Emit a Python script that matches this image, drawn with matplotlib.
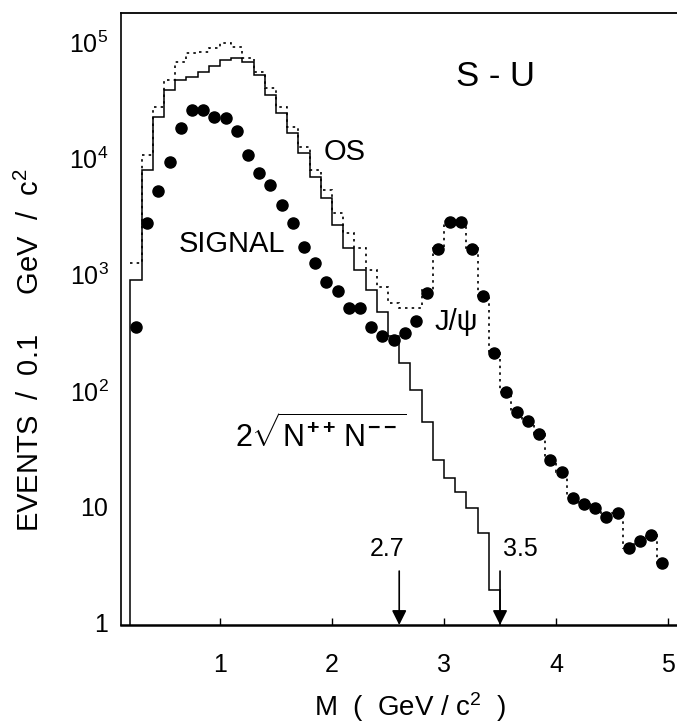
import matplotlib.pyplot as plt
import numpy as np
from matplotlib.ticker import NullLocator

plt.rcParams['font.family'] = ['Liberation Sans', 'DejaVu Sans']
plt.rcParams['mathtext.fontset'] = 'custom'
plt.rcParams['mathtext.rm'] = 'Liberation Sans'
plt.rcParams['mathtext.it'] = 'Liberation Sans'
plt.rcParams['mathtext.bf'] = 'Liberation Sans:bold'

# 0.1 GeV bins from 0.2 to 5.0 GeV/c^2
edges = np.round(np.arange(0.2, 5.05, 0.1), 2)
centers = (edges[:-1] + edges[1:]) / 2

# signal points (OS - like sign background)
signal = [352, 2790, 5220, 9290, 18400, 26100, 26100, 22900, 22400, 17400,
          10800, 7530, 5890, 3990, 2810, 1730, 1260, 859, 718, 516,
          516, 352, 298, 275, 318, 396, 695, 1670, 2830, 2830,
          1670, 650, 211, 98.6, 66.3, 55.5, 42.4, 25.4, 19.8, 11.9,
          10.6, 9.75, 8.25, 8.93, 4.40, 5.12, 5.74, 3.27]

# opposite sign pairs (dotted histogram)
os_counts = [1260, 10800, 28100, 48000, 68500, 82000, 83500, 90500, 100000, 92400,
             74300, 56200, 40900, 28100, 18900, 12700, 8040, 5410, 3420, 2300,
             1710, 1100, 788, 574, 520, 520, 740, 1700, 2920, 2920,
             1700, 650, 211, 98.6, 66.3, 55.5, 42.4, 25.4, 19.8, 11.9,
             10.6, 9.75, 8.25, 8.93, 4.40, 5.12, 5.74, 3.27]

# 2 sqrt(N++ N--) background, 0.2 - 3.5 GeV
bkg_edges = edges[:34]
bkg = [906, 8040, 23000, 39400, 48000, 50900, 56200, 63400, 71300, 74300,
       68500, 53000, 35600, 24900, 16700, 11300, 7000, 4610, 2700, 1710,
       1100, 743, 480, 294, 173, 102, 54.4, 25.4, 17.8, 13.5,
       9.8, 5.97, 1.93]

cut_pos = [2.6, 3.5]
cut_labels = ['2.7', '3.5']

fig = plt.figure(figsize=(6.77, 7.28), dpi=100)
ax = fig.add_axes([0.1787, 0.1415, 0.8213, 0.8407])
ax.set_yscale('log')

ax.stairs(bkg, bkg_edges, baseline=0.5, color='black', lw=1.1)
ax.stairs(os_counts, edges, baseline=None, color='black', lw=1.2,
          linestyle=(0, (1.5, 2.5)))
ax.plot(centers, signal, 'o', color='black', ms=8)

ax.set_xlim(0.116, 5.08)
ax.set_ylim(0.961, 1.8e5)

ax.set_xticks([1, 2, 3, 4, 5])
ax.set_yticks([1, 10, 100, 1e3, 1e4, 1e5])
ax.set_yticklabels(['1', '10', r'$\mathregular{10^2}$', r'$\mathregular{10^3}$',
                    r'$\mathregular{10^4}$', r'$\mathregular{10^5}$'])
ax.yaxis.set_minor_locator(NullLocator())
ax.tick_params(axis='x', direction='in', length=5, width=1, pad=20, labelsize=18)
ax.tick_params(axis='y', length=0, pad=9, labelsize=18)

ax.spines['right'].set_visible(False)
ax.spines['top'].set_linewidth(1.3)
ax.spines['bottom'].set_linewidth(1.8)
ax.spines['left'].set_linewidth(1.2)

for x in cut_pos:
    ax.annotate('', xy=(x, 0), xycoords=('data', 'axes fraction'),
                xytext=(x, 2.8), textcoords='data',
                arrowprops=dict(arrowstyle='-|>', color='black', lw=1.2,
                                mutation_scale=22, shrinkA=0, shrinkB=0))
ax.text(2.49, 4.35, cut_labels[0], fontsize=18, ha='center', va='center')
ax.text(3.53, 4.35, cut_labels[1], fontsize=18, ha='left', va='center')

ax.text(3.46, 50900, 'S - U', fontsize=25, ha='center', va='center')
ax.text(2.11, 11500, 'OS', fontsize=21, ha='center', va='center')
ax.text(1.11, 1850, 'SIGNAL', fontsize=21, ha='center', va='center')
ax.text(3.11, 394, 'J/ψ', fontsize=21, ha='center', va='center')
ax.text(1.9, 41.8, r'$2\sqrt{N^{\mathbf{++}}\,N^{\mathbf{--}}}$', fontsize=22,
        ha='center', va='center')

fig.text(30 / 677, 1 - 350 / 728, r'EVENTS  /  0.1     GeV  /  c$^2$',
         fontsize=21, rotation=90, ha='center', va='center')
fig.text(410 / 677, 1 - 707 / 728, r'M  (  GeV / c$^2$  )', fontsize=20,
         ha='center', va='center')

fig.savefig('out.png', dpi=100)
